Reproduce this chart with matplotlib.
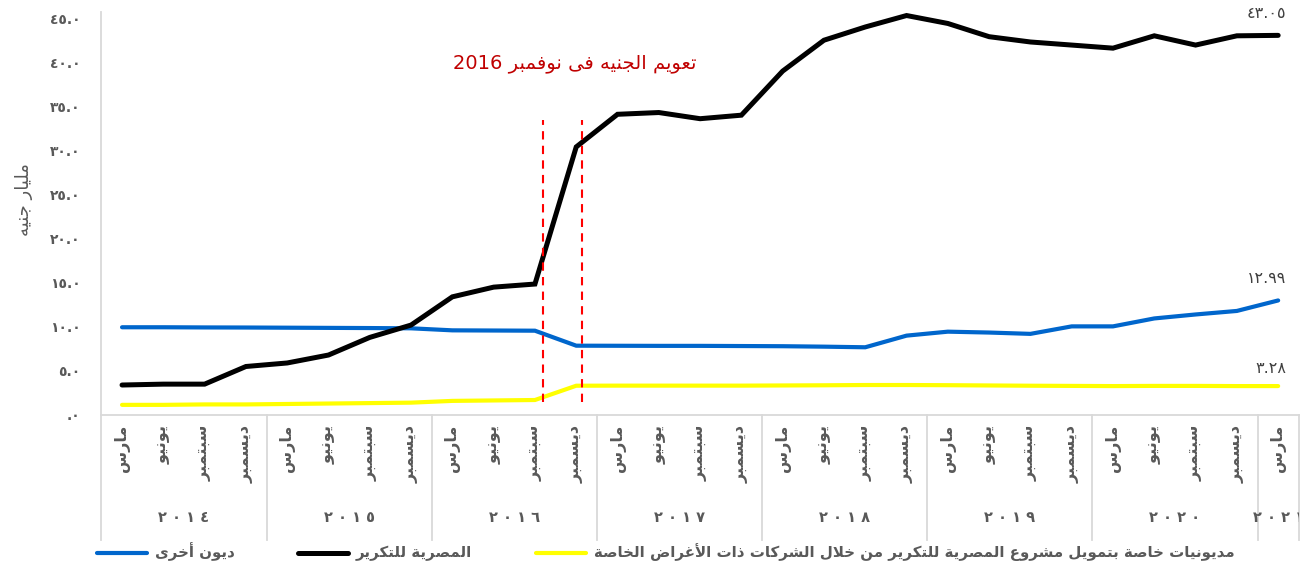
import re
import numpy as np
import matplotlib
matplotlib.use('Agg')
import matplotlib.pyplot as plt
from matplotlib.transforms import Bbox, TransformedBbox, blended_transform_factory

plt.rcParams['font.family'] = ['DejaVu Sans']

# ---------- data ----------
months = ['مارس', 'يونيو', 'سبتمبر', 'ديسمبر']
years = ['٢ ٠ ١ ٤', '٢ ٠ ١ ٥', '٢ ٠ ١ ٦', '٢ ٠ ١ ٧', '٢ ٠ ١ ٨', '٢ ٠ ١ ٩', '٢ ٠ ٢ ٠', '٢ ٠ ٢ ١']
quarters_per_year = [4, 4, 4, 4, 4, 4, 4, 1]
period_labels = [months[i % 4] for i in range(sum(quarters_per_year))]

other_debt = [9.95, 9.95, 9.93, 9.92, 9.9, 9.88, 9.86, 9.83, 9.6, 9.58, 9.56,
              7.86, 7.85, 7.84, 7.84, 7.82, 7.8, 7.75, 7.68,
              9.0, 9.45, 9.35, 9.2, 10.05, 10.05, 10.95, 11.4, 11.8, 12.99]
refinery = [3.4, 3.5, 3.5, 5.5, 5.9, 6.8, 8.8, 10.2, 13.4, 14.5, 14.85,
            30.4, 34.1, 34.3, 33.6, 34.0, 39.0, 42.5, 44.0, 45.3,
            44.4, 42.9, 42.3, 41.95, 41.6, 43.0, 41.95, 43.0, 43.05]
spv_debt = [1.15, 1.15, 1.2, 1.2, 1.25, 1.3, 1.35, 1.4, 1.6, 1.65, 1.7,
            3.32, 3.33, 3.33, 3.33, 3.33, 3.35, 3.37, 3.4,
            3.4, 3.38, 3.35, 3.32, 3.3, 3.28, 3.3, 3.3, 3.28, 3.28]

series_names = ['ديون أخرى', 'المصرية للتكرير',
                'مديونيات خاصة بتمويل مشروع المصرية للتكرير من خلال الشركات ذات الأغراض الخاصة']
end_labels = ['١٢.٩٩', '٤٣.٠٥', '٣.٢٨']
y_ticks = [0, 5, 10, 15, 20, 25, 30, 35, 40, 45]
y_tick_labels = ['.٠', '٥.٠', '١٠.٠', '١٥.٠', '٢٠.٠', '٢٥.٠', '٣٠.٠', '٣٥.٠', '٤٠.٠', '٤٥.٠']
note_text = 'تعويم الجنيه فى نوفمبر 2016'
y_title = 'مليار جنيه'

BLUE = '#0066CC'
BLACK = '#000000'
YELLOW = '#FFFF00'
GREY = '#595959'
LINE_GREY = '#D9D9D9'

# ---------- minimal arabic shaping (matplotlib has no bidi/shaping) ----------
AR_FORMS = {
    'ا': (0xFE8D, 0xFE8E), 'أ': (0xFE83, 0xFE84), 'د': (0xFEA9, 0xFEAA),
    'ذ': (0xFEAB, 0xFEAC), 'ر': (0xFEAD, 0xFEAE), 'ز': (0xFEAF, 0xFEB0),
    'و': (0xFEED, 0xFEEE), 'ة': (0xFE93, 0xFE94), 'ى': (0xFEEF, 0xFEF0),
    'ب': (0xFE8F, 0xFE90, 0xFE91, 0xFE92), 'ت': (0xFE95, 0xFE96, 0xFE97, 0xFE98),
    'ج': (0xFE9D, 0xFE9E, 0xFE9F, 0xFEA0), 'خ': (0xFEA5, 0xFEA6, 0xFEA7, 0xFEA8),
    'س': (0xFEB1, 0xFEB2, 0xFEB3, 0xFEB4), 'ش': (0xFEB5, 0xFEB6, 0xFEB7, 0xFEB8),
    'ص': (0xFEB9, 0xFEBA, 0xFEBB, 0xFEBC), 'ض': (0xFEBD, 0xFEBE, 0xFEBF, 0xFEC0),
    'ع': (0xFEC9, 0xFECA, 0xFECB, 0xFECC), 'غ': (0xFECD, 0xFECE, 0xFECF, 0xFED0),
    'ف': (0xFED1, 0xFED2, 0xFED3, 0xFED4), 'ق': (0xFED5, 0xFED6, 0xFED7, 0xFED8),
    'ك': (0xFED9, 0xFEDA, 0xFEDB, 0xFEDC), 'ل': (0xFEDD, 0xFEDE, 0xFEDF, 0xFEE0),
    'م': (0xFEE1, 0xFEE2, 0xFEE3, 0xFEE4), 'ن': (0xFEE5, 0xFEE6, 0xFEE7, 0xFEE8),
    'ه': (0xFEE9, 0xFEEA, 0xFEEB, 0xFEEC), 'ي': (0xFEF1, 0xFEF2, 0xFEF3, 0xFEF4),
}
LAM_ALEF = {'لا': (0xFEFB, 0xFEFC), 'لأ': (0xFEF7, 0xFEF8)}


def ar(text):
    tokens = []
    i = 0
    while i < len(text):
        if text[i] == 'ل' and i + 1 < len(text) and text[i + 1] in 'اأ':
            tokens.append(text[i:i + 2])
            i += 2
        else:
            tokens.append(text[i])
            i += 1

    def joins_next(t):
        return t in AR_FORMS and len(AR_FORMS[t]) == 4

    def is_ar(t):
        return t in AR_FORMS or t in LAM_ALEF

    res = []
    for j, t in enumerate(tokens):
        prev_j = j > 0 and joins_next(tokens[j - 1])
        next_j = j + 1 < len(tokens) and is_ar(tokens[j + 1])
        if t in LAM_ALEF:
            res.append(chr(LAM_ALEF[t][1 if prev_j else 0]))
        elif t in AR_FORMS:
            f = AR_FORMS[t]
            if len(f) == 4 and next_j:
                idx = 3 if prev_j else 2
            else:
                idx = 1 if prev_j else 0
            res.append(chr(f[idx]))
        else:
            res.append(t)
    s = ''.join(res)[::-1]
    return re.sub(r'[0-9]+', lambda m: m.group(0)[::-1], s)


# ---------- figure ----------
W, H = 1307, 575
fig = plt.figure(figsize=(W / 100, H / 100), dpi=100)
ax = fig.add_axes([101.4 / W, 1 - 415 / H, 1197.4 / W, 403 / H])

x = np.arange(len(period_labels))
lines = []
for vals, col, lw in [(other_debt, BLUE, 3.0), (refinery, BLACK, 3.6), (spv_debt, YELLOW, 3.0)]:
    ln, = ax.plot(x, vals, color=col, linewidth=lw, solid_capstyle='round',
                  solid_joinstyle='miter', clip_on=False)
    lines.append(ln)

ax.set_xlim(-0.5, len(x) - 0.5)
ax.set_ylim(0, 45.7)

# end-of-series labels
for vals, lab, dy in [(other_debt, end_labels[0], 16), (refinery, end_labels[1], 16), (spv_debt, end_labels[2], 13)]:
    ax.annotate(lab, (x[-1], vals[-1]), xytext=(6, dy), textcoords='offset points',
                ha='right', va='center', fontsize=11.5, color='#404040')

# devaluation markers
for xv in [10.2, 11.14]:
    ax.plot([xv, xv], [1.5, 33.4], color='#FF0000', linewidth=1.5, linestyle=(0, (4, 3)))
ax.text(10.97, 39.9, ar(note_text), color='#C00000', fontsize=14,
        ha='center', va='center')

# axes styling
for s in ['top', 'right']:
    ax.spines[s].set_visible(False)
ax.spines['left'].set_color(LINE_GREY)
ax.spines['bottom'].set_color(LINE_GREY)
ax.spines['left'].set_linewidth(1.3)
ax.spines['bottom'].set_linewidth(1.3)
ax.set_yticks(y_ticks)
ax.set_yticklabels(y_tick_labels, fontsize=10, fontweight='bold', color=GREY)
ax.tick_params(axis='y', length=0, pad=15)
ax.set_xticks([])

# category axis: months + years
bt = blended_transform_factory(ax.transData, ax.transAxes)
ax_h = 403.0
for xi, lab in zip(x, period_labels):
    ax.text(xi, -10 / ax_h, ar(lab), transform=bt, rotation=90, ha='center', va='top',
            fontsize=11.5, fontweight='bold', color=GREY)

bounds = np.concatenate([[0], np.cumsum(quarters_per_year)]) - 0.5
for b in bounds:
    ax.plot([b, b], [0, -125 / ax_h], transform=bt, color=LINE_GREY, linewidth=1.3, clip_on=False)

clip = TransformedBbox(Bbox([[-0.5, -1.0], [len(x) - 0.5, 1.0]]), bt)
for i, yr in enumerate(years):
    xc = (bounds[i] + bounds[i + 1]) / 2
    t = ax.text(xc, -103 / ax_h, yr, transform=bt, ha='center', va='center',
                fontsize=10.5, fontweight='bold', color=GREY)
    t.set_clip_box(clip)
    t.set_clip_on(True)

fig.text(24 / W, 1 - 200 / H, ar(y_title), rotation=90, ha='center', va='center',
         fontsize=13, color=GREY)

leg = fig.legend(lines, [ar(n) for n in series_names], loc='center left',
                 bbox_to_anchor=(97 / W, 1 - 552 / H), ncol=3, frameon=False,
                 handlelength=3.6, handletextpad=0.55, columnspacing=4.6,
                 borderpad=0, borderaxespad=0)
for t in leg.get_texts():
    t.set_fontsize(10.8)
    t.set_fontweight('bold')
    t.set_color(GREY)

fig.savefig('out.png', dpi=100, facecolor='white')
